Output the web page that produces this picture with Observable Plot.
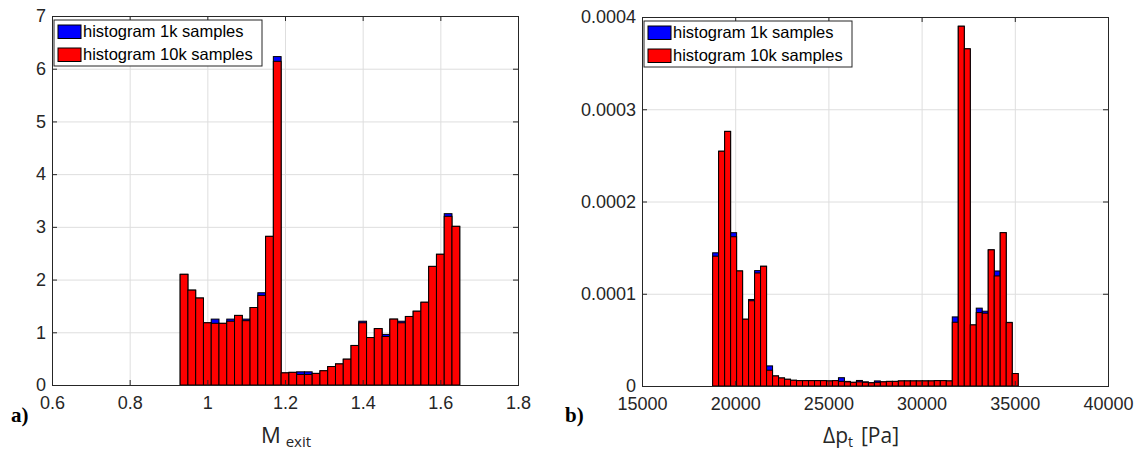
<!DOCTYPE html>
<html><head><meta charset="utf-8">
<script src="https://cdn.jsdelivr.net/npm/d3@7"></script>
<script src="https://cdn.jsdelivr.net/npm/@observablehq/plot@0.6"></script>
<style>
body{margin:0;background:#fff;}
#wrap{display:flex;width:1139px;height:452px;overflow:hidden;}
</style></head><body><div id="wrap"></div>
<script>
// ---------- data: panel a) M_exit ----------
const machEdges = [0.93,0.95,0.97,0.99,1.01,1.03,1.05,1.07,1.09,1.11,1.13,1.15,1.17,1.19,1.21,1.23,1.25,1.27,1.29,1.31,1.33,1.35,1.37,1.39,1.41,1.43,1.45,1.47,1.49,1.51,1.53,1.55,1.57,1.59,1.61,1.63,1.65];
const mach10k = [2.10,1.80,1.65,1.18,1.17,1.17,1.21,1.32,1.22,1.47,1.70,2.82,6.14,0.23,0.24,0.20,0.20,0.22,0.27,0.35,0.40,0.49,0.75,1.18,0.90,1.07,0.92,1.25,1.18,1.30,1.40,1.57,2.25,2.48,3.20,3.01];
const mach1k  = [2.10,1.80,1.65,1.18,1.25,1.17,1.25,1.32,1.25,1.47,1.75,2.82,6.23,0.23,0.24,0.25,0.25,0.22,0.27,0.35,0.40,0.49,0.75,1.21,0.90,1.07,0.96,1.25,1.21,1.30,1.40,1.57,2.25,2.48,3.25,3.01];
const machXTicks = [0.6,0.8,1.0,1.2,1.4,1.6,1.8];
const machXTickLabels = ["0.6","0.8","1","1.2","1.4","1.6","1.8"];
const machYTicks = [0,1,2,3,4,5,6,7];
const machYTickLabels = ["0","1","2","3","4","5","6","7"];

// ---------- data: panel b) Δp_t ----------
const dpEdges = [18790,19111,19433,19754,20076,20397,20718,21040,21361,21683,22004,22325,22647,22968,23290,23611,23932,24254,24575,24897,25218,25539,25861,26182,26504,26825,27146,27468,27789,28111,28432,28753,29075,29396,29718,30039,30360,30682,31003,31325,31646,31967,32289,32610,32932,33253,33574,33896,34217,34539,34860,35181];
const dp10k = [1.407e-4,2.545e-4,2.76e-4,1.618e-4,1.247e-4,0.724e-4,0.924e-4,1.225e-4,1.298e-4,0.171e-4,
               0.109e-4,0.087e-4,0.073e-4,0.062e-4,0.058e-4,0.058e-4,0.058e-4,0.058e-4,0.058e-4,0.055e-4,
               0.058e-4,0.050e-4,0.045e-4,0.040e-4,0.045e-4,0.040e-4,0.035e-4,0.040e-4,0.045e-4,0.050e-4,
               0.050e-4,0.055e-4,0.055e-4,0.055e-4,0.055e-4,0.055e-4,0.055e-4,0.058e-4,0.058e-4,0.055e-4,
               0.691e-4,3.90e-4,3.655e-4,0.662e-4,0.796e-4,0.789e-4,1.476e-4,1.193e-4,1.662e-4,0.687e-4,0.135e-4];
const dp1k  = [1.444e-4,2.545e-4,2.76e-4,1.662e-4,1.247e-4,0.724e-4,0.938e-4,1.251e-4,1.298e-4,0.218e-4,
               0.109e-4,0.087e-4,0.073e-4,0.062e-4,0.058e-4,0.058e-4,0.058e-4,0.058e-4,0.058e-4,0.055e-4,
               0.058e-4,0.090e-4,0.050e-4,0.040e-4,0.060e-4,0.045e-4,0.035e-4,0.055e-4,0.045e-4,0.050e-4,
               0.050e-4,0.055e-4,0.055e-4,0.055e-4,0.055e-4,0.055e-4,0.055e-4,0.058e-4,0.058e-4,0.055e-4,
               0.749e-4,3.90e-4,3.655e-4,0.662e-4,0.844e-4,0.811e-4,1.476e-4,1.247e-4,1.662e-4,0.690e-4,0.135e-4];
const dpXTicks = [15000,20000,25000,30000,35000,40000];
const dpXTickLabels = ["15000","20000","25000","30000","35000","40000"];
const dpYTicks = [0,0.0001,0.0002,0.0003,0.0004];
const dpYTickLabels = ["0","0.0001","0.0002","0.0003","0.0004"];

const legendLabels = ["histogram 1k samples","histogram 10k samples"];
const seriesColors = ["#0000ff","#ff0000"];

// ---------- drawing ----------
const axisColor = "#262626";
const gridColor = "#dedede";

function rows(edges, vals) {
  return vals.map((v, i) => ({x1: edges[i], x2: edges[i + 1], y: v}));
}

function panel(cfg) {
  const plotW = cfg.width - cfg.ml - cfg.mr;
  const plotH = cfg.height - cfg.mt - cfg.mb;
  const lab = (ticks, labels) => d => labels[ticks.findIndex(t => Math.abs(t - d) < 1e-9)];
  const svg = Plot.plot({
    width: cfg.width, height: cfg.height,
    marginLeft: cfg.ml, marginRight: cfg.mr, marginTop: cfg.mt, marginBottom: cfg.mb,
    style: {fontFamily: "'Liberation Sans', Arial, sans-serif", fontSize: "18px", color: axisColor, background: "white"},
    x: {domain: cfg.xDomain, label: null},
    y: {domain: cfg.yDomain, label: null},
    marks: [
      Plot.gridX(cfg.xTicks, {stroke: gridColor, strokeOpacity: 1}),
      Plot.gridY(cfg.yTicks, {stroke: gridColor, strokeOpacity: 1}),
      Plot.rectY(rows(cfg.edges, cfg.v1k), {x1: "x1", x2: "x2", y1: 0, y2: "y", fill: seriesColors[0], stroke: "#000", strokeWidth: 1}),
      Plot.rectY(rows(cfg.edges, cfg.v10k), {x1: "x1", x2: "x2", y1: 0, y2: "y", fill: seriesColors[1], stroke: "#000", strokeWidth: 1}),
      Plot.tickX(cfg.xTicks, {x: d => d, insetTop: plotH - 5, stroke: axisColor}),
      Plot.tickX(cfg.xTicks, {x: d => d, insetBottom: plotH - 5, stroke: axisColor}),
      Plot.tickY(cfg.yTicks, {y: d => d, insetRight: plotW - 5, stroke: axisColor}),
      Plot.tickY(cfg.yTicks, {y: d => d, insetLeft: plotW - 5, stroke: axisColor}),
      Plot.frame({stroke: axisColor, strokeWidth: 1}),
      Plot.axisX(cfg.xTicks, {tickSize: 0, tickPadding: 11, tickFormat: lab(cfg.xTicks, cfg.xLabels), fontSize: 18, label: null}),
      Plot.axisY(cfg.yTicks, {tickSize: 0, tickPadding: 6.5, tickFormat: lab(cfg.yTicks, cfg.yLabels), fontSize: 18, label: null})
    ]
  });
  const s = d3.select(svg);
  // legend
  const lx = cfg.ml + 2, ly = cfg.mt + 4;
  const g = s.append("g").attr("text-anchor", "start");
  g.append("rect").attr("x", lx).attr("y", ly).attr("width", 208).attr("height", 46)
    .attr("fill", "white").attr("stroke", axisColor).attr("stroke-width", 1);
  legendLabels.forEach((t, i) => {
    g.append("rect").attr("x", lx + 4).attr("y", ly + 5 + i * 23).attr("width", 23).attr("height", 13.5)
      .attr("fill", seriesColors[i]).attr("stroke", "#000").attr("stroke-width", 1);
    g.append("text").attr("x", lx + 29).attr("y", ly + 17 + i * 23).attr("text-anchor", "start")
      .attr("font-family", "'Liberation Sans', Arial, sans-serif").attr("font-size", 16.5)
      .attr("fill", "#000").text(t);
  });
  // panel letter
  s.append("text").attr("x", cfg.letterX).attr("y", 422).attr("text-anchor", "start")
    .attr("font-family", "'Liberation Serif', 'DejaVu Serif', serif").attr("font-weight", "bold")
    .attr("font-size", 21).attr("fill", "#000").text(cfg.letter);
  // axis title
  const tt = s.append("text").attr("x", cfg.titleX).attr("y", 443).attr("text-anchor", "middle")
    .attr("font-family", "'Open Sans', sans-serif").attr("fill", axisColor);
  cfg.title(tt);
  return svg;
}

const wrap = document.getElementById("wrap");
wrap.appendChild(panel({
  width: 560, height: 452, ml: 52, mr: 42, mt: 16, mb: 67,
  xDomain: [0.6, 1.8], yDomain: [0, 7],
  xTicks: machXTicks, xLabels: machXTickLabels, yTicks: machYTicks, yLabels: machYTickLabels,
  edges: machEdges, v1k: mach1k, v10k: mach10k,
  letter: "a)", letterX: 11, titleX: 286,
  title: t => {
    t.append("tspan").attr("font-size", 22).text("M");
    t.append("tspan").attr("font-size", 15).attr("dx", 5).attr("dy", 4).text("exit");
  }
}));
wrap.appendChild(panel({
  width: 579, height: 452, ml: 82, mr: 31, mt: 17, mb: 66,
  xDomain: [15000, 40000], yDomain: [0, 0.0004],
  xTicks: dpXTicks, xLabels: dpXTickLabels, yTicks: dpYTicks, yLabels: dpYTickLabels,
  edges: dpEdges, v1k: dp1k, v10k: dp10k,
  letter: "b)", letterX: 5, titleX: 301,
  title: t => {
    t.append("tspan").attr("font-size", 21).text("Δp");
    t.append("tspan").attr("font-size", 14).attr("dy", 4).text("t");
    t.append("tspan").attr("font-size", 21).attr("dy", -4).attr("dx", 8).text("[Pa]");
  }
}));
</script></body></html>
